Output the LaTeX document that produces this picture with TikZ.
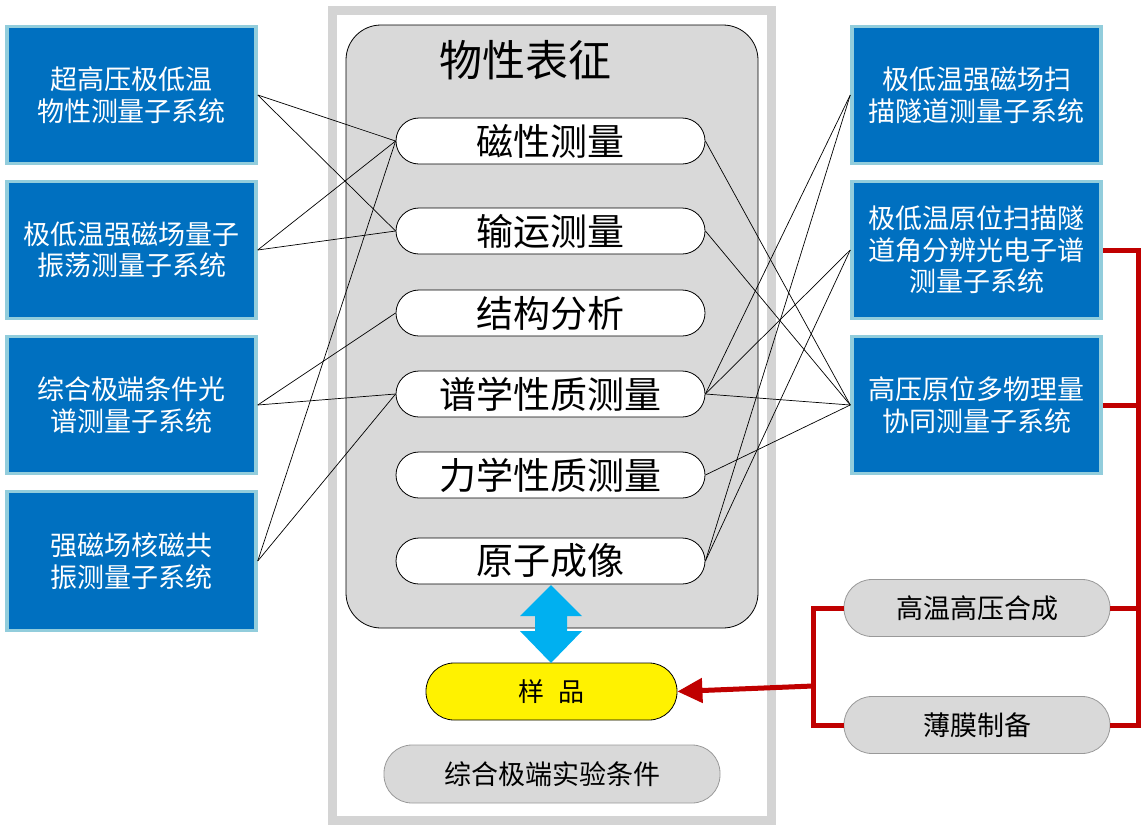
\documentclass[tikz,border=0pt]{standalone}
\usepackage{fontspec}
\newfontfamily\cjk{Noto Sans CJK SC}
\usetikzlibrary{arrows.meta}
\definecolor{boxblue}{HTML}{0070C0}
\definecolor{boxedge}{HTML}{92CDDC}
\definecolor{panel}{HTML}{D9D9D9}
\definecolor{feedred}{HTML}{C00000}
\definecolor{skyblue}{HTML}{00B0F0}

\begin{document}
\begin{tikzpicture}[x=1pt, y=-1pt,
    sub/.style={draw=boxedge, line width=3.5pt, fill=boxblue, text=white, align=center, inner sep=0pt,
        minimum width=249pt, minimum height=137pt, font=\cjk\fontsize{27}{31.5}\selectfont},
    meas/.style={draw, line width=0.8pt, fill=white, rounded corners=23pt, inner sep=0pt,
        minimum width=309pt, minimum height=46pt, font=\cjk\fontsize{37}{40}\selectfont},
    prep/.style={draw=black!40, line width=0.8pt, fill=panel, rounded corners=28pt, inner sep=0pt,
        minimum width=266pt, minimum height=57pt, font=\cjk\fontsize{27}{30}\selectfont},
    link/.style={line width=0.7pt},
    feed/.style={feedred, line width=5pt}]
    \useasboundingbox (0,0) rectangle (1146,833);

    % Coordinates
    \coordinate (busL) at (813,0);
    \coordinate (busR) at (1138,0);
    \coordinate (tap) at (813,686);

    % Frame and panel
    \node[draw=black!17, line width=9pt, minimum width=439pt, minimum height=810pt] (frame) at (551.5,415) {};
    \node[draw, line width=0.8pt, fill=panel, rounded corners=35pt, minimum width=412pt, minimum height=603pt] (panel) at (552,326.5) {};
    % Text
    \node[font=\cjk\fontsize{43}{46}\selectfont] (title) at (525,60) {物性表征};

    % Left subsystems
    \node[sub] (hp) at (131.5,95) {超高压极低温\\物性测量子系统};
    \node[sub] (qo) at (131.5,250) {极低温强磁场量子\\振荡测量子系统};
    \node[sub] (opt) at (131.5,405) {综合极端条件光\\谱测量子系统};
    \node[sub, minimum height=139pt] (nmr) at (131.5,561) {强磁场核磁共\\振测量子系统};

    % Right subsystems
    \node[sub] (stm) at (976.5,95) {极低温强磁场扫\\描隧道测量子系统};
    \node[sub] (arpes) at (976.5,250) {极低温原位扫描隧\\道角分辨光电子谱\\测量子系统};
    \node[sub] (multi) at (976.5,405) {高压原位多物理量\\协同测量子系统};

    % Measurements
    \node[meas] (mag) at (550.5,141) {磁性测量};
    \node[meas] (trans) at (550.5,231) {输运测量};
    \node[meas] (struct) at (550.5,313) {结构分析};
    \node[meas] (spec) at (550.5,394) {谱学性质测量};
    \node[meas] (mech) at (550.5,475) {力学性质测量};
    \node[meas] (img) at (550.5,561) {原子成像};

    % Sample and conditions
    \node[draw, line width=0.8pt, fill=yellow, rounded corners=28pt, minimum width=251pt, minimum height=57pt,
        font=\cjk\fontsize{26}{30}\selectfont] (sample) at (551.5,691.5) {样\hspace{0.55em}品};
    \node[prep, minimum width=336pt, minimum height=58pt] (cond) at (552,774) {综合极端实验条件};
    \node[prep] (syn) at (977,608) {高温高压合成};
    \node[prep] (film) at (977,725) {薄膜制备};

    % Double arrow
    \fill[skyblue] (551,585) -- (582,616) -- (567,616) -- (567,631) -- (582,631) -- (551,663)
        -- (520,631) -- (535,631) -- (535,616) -- (520,616) -- cycle;

    % Lines
    \draw[link] (hp.east) -- (mag.west);
    \draw[link] (hp.east) -- (trans.west);
    \draw[link] (qo.east) -- (mag.west);
    \draw[link] (qo.east) -- (trans.west);
    \draw[link] (opt.east) -- (struct.west);
    \draw[link] (opt.east) -- (spec.west);
    \draw[link] (nmr.east) -- (mag.west);
    \draw[link] (nmr.east) -- (spec.west);
    \draw[link] (mag.east) -- (multi.west);
    \draw[link] (trans.east) -- (multi.west);
    \draw[link] (spec.east) -- (stm.west);
    \draw[link] (spec.east) -- (arpes.west);
    \draw[link] (spec.east) -- (multi.west);
    \draw[link] (mech.east) -- (multi.west);
    \draw[link] (img.east) -- (stm.west);
    \draw[link] (img.east) -- (arpes.west);

    % Red feeds
    \draw[feed] (arpes.east) -- (arpes.east -| busR) -- (film.east -| busR) -- (film.east);
    \draw[feed] (multi.east) -- (multi.east -| busR);
    \draw[feed] (syn.east) -- (syn.east -| busR);
    \draw[feed] (syn.west) -- (syn.west -| busL) -- (film.west -| busL) -- (film.west);
    \draw[feed, -{Triangle[length=25pt, width=24pt]}] (tap) -- (sample.east);
\end{tikzpicture}
\end{document}
